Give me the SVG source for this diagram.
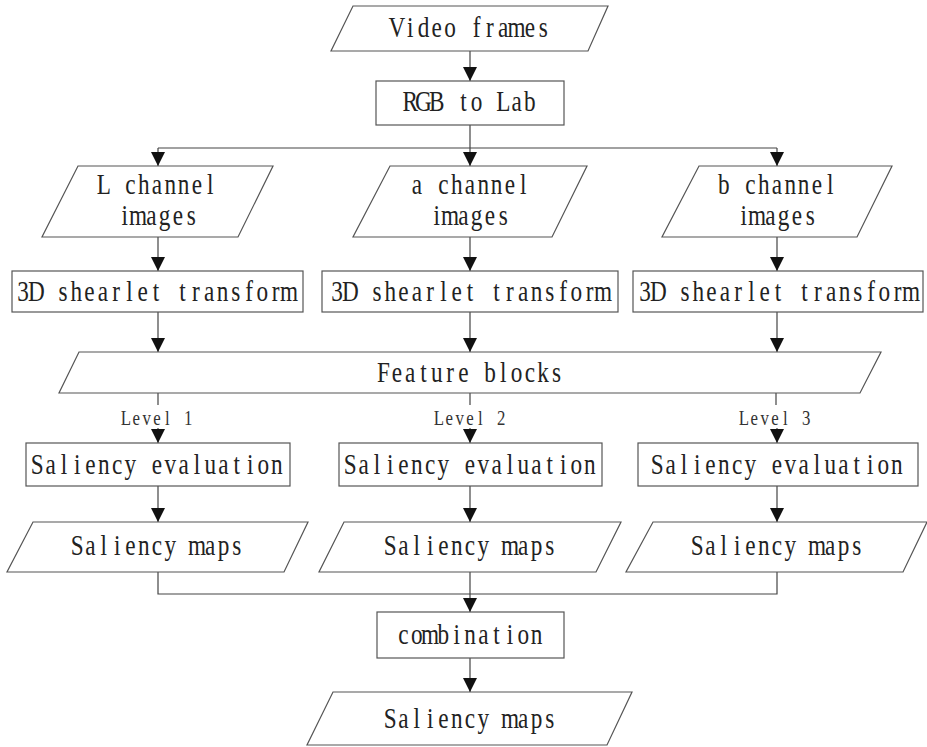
<svg xmlns="http://www.w3.org/2000/svg" width="927" height="747" viewBox="0 0 927 747">
<style>
.shape{fill:#fff;stroke:#555;stroke-width:1.2}
.t{font-family:"Liberation Serif",serif;font-size:29px;fill:#222;text-anchor:middle}
.lv{font-family:"Liberation Serif",serif;font-size:21px;fill:#333;text-anchor:middle}
.c{fill:none;stroke:#444;stroke-width:1.2}
</style>
<defs>
<marker id="ah" markerUnits="userSpaceOnUse" markerWidth="14" markerHeight="14" refX="14" refY="7" orient="auto" viewBox="0 0 14 14">
<path d="M0,0 L14,7 L0,14 z" fill="#111"/>
</marker>
</defs>
<rect width="927" height="747" fill="#fff"/>
<g id="connectors">
<path class="c" d="M470,51 V81" marker-end="url(#ah)"/>
<path class="c" d="M470,125 V166" marker-end="url(#ah)"/>
<path class="c" d="M158,148 H777"/>
<path class="c" d="M158,148 V166" marker-end="url(#ah)"/>
<path class="c" d="M777,148 V166" marker-end="url(#ah)"/>
<path class="c" d="M158,237 V271" marker-end="url(#ah)"/>
<path class="c" d="M470,237 V271" marker-end="url(#ah)"/>
<path class="c" d="M777,237 V271" marker-end="url(#ah)"/>
<path class="c" d="M158,312 V352" marker-end="url(#ah)"/>
<path class="c" d="M470,312 V352" marker-end="url(#ah)"/>
<path class="c" d="M777,312 V352" marker-end="url(#ah)"/>
<path class="c" d="M158,393 V405"/>
<path class="c" d="M470,393 V405"/>
<path class="c" d="M776,393 V405"/>
<path class="c" d="M158,428 V443" marker-end="url(#ah)"/>
<path class="c" d="M470,428 V443" marker-end="url(#ah)"/>
<path class="c" d="M777,428 V443" marker-end="url(#ah)"/>
<path class="c" d="M158,486 V522" marker-end="url(#ah)"/>
<path class="c" d="M470,486 V522" marker-end="url(#ah)"/>
<path class="c" d="M777,486 V522" marker-end="url(#ah)"/>
<path class="c" d="M158,572 V594 H777 V572"/>
<path class="c" d="M470,572 V612" marker-end="url(#ah)"/>
<path class="c" d="M470,658 V692" marker-end="url(#ah)"/>
<text class="lv" transform="translate(157,425) scale(0.8,1)" x="-39 -26 -13 0 13 26 39">Level 1</text>
<text class="lv" transform="translate(470,425) scale(0.8,1)" x="-39 -26 -13 0 13 26 39">Level 2</text>
<text class="lv" transform="translate(775,425) scale(0.8,1)" x="-39 -26 -13 0 13 26 39">Level 3</text>
</g>
<g id="video-frames">
<polygon class="shape" points="353,6 608,6 588,51 331,51"/>
<text class="t" transform="translate(470,37) scale(0.8,1)" x="-91.44 -74.81 -58.19 -41.56 -24.94 -8.31 8.31 24.94 41.56 58.19 74.81 91.44">Video frames</text>
</g>
<g id="rgb-to-lab">
<rect class="shape" x="376" y="81" width="188" height="44"/>
<text class="t" transform="translate(470,111) scale(0.8,1)" x="-74.81 -58.19 -41.56 -24.94 -8.31 8.31 24.94 41.56 58.19 74.81">RGB to Lab</text>
</g>
<g id="l-channel">
<polygon class="shape" points="78,166 273,166 238,237 42,237"/>
<text class="t" transform="translate(157,194) scale(0.8,1)" x="-66.5 -49.88 -33.25 -16.63 0 16.63 33.25 49.88 66.5">L channel</text>
<text class="t" transform="translate(158,225) scale(0.8,1)" x="-41.56 -24.94 -8.31 8.31 24.94 41.56">images</text>
</g>
<g id="a-channel">
<polygon class="shape" points="390,166 587,166 552,237 353,237"/>
<text class="t" transform="translate(470,194) scale(0.8,1)" x="-66.5 -49.88 -33.25 -16.63 0 16.63 33.25 49.88 66.5">a channel</text>
<text class="t" transform="translate(470,225) scale(0.8,1)" x="-41.56 -24.94 -8.31 8.31 24.94 41.56">images</text>
</g>
<g id="b-channel">
<polygon class="shape" points="699,166 892,166 857,237 662,237"/>
<text class="t" transform="translate(777,194) scale(0.8,1)" x="-66.5 -49.88 -33.25 -16.63 0 16.63 33.25 49.88 66.5">b channel</text>
<text class="t" transform="translate(777,225) scale(0.8,1)" x="-41.56 -24.94 -8.31 8.31 24.94 41.56">images</text>
</g>
<g id="shearlet-l">
<rect class="shape" x="12" y="271" width="291" height="41"/>
<text class="t" transform="translate(156,301) scale(0.8,1)" x="-166.25 -149.63 -133 -116.38 -99.75 -83.13 -66.5 -49.88 -33.25 -16.63 0 16.63 33.25 49.88 66.5 83.13 99.75 116.38 133 149.63 166.25">3D shearlet transform</text>
</g>
<g id="shearlet-a">
<rect class="shape" x="322" y="271" width="296" height="41"/>
<text class="t" transform="translate(470,301) scale(0.8,1)" x="-166.25 -149.63 -133 -116.38 -99.75 -83.13 -66.5 -49.88 -33.25 -16.63 0 16.63 33.25 49.88 66.5 83.13 99.75 116.38 133 149.63 166.25">3D shearlet transform</text>
</g>
<g id="shearlet-b">
<rect class="shape" x="633" y="271" width="290" height="41"/>
<text class="t" transform="translate(778,301) scale(0.8,1)" x="-166.25 -149.63 -133 -116.38 -99.75 -83.13 -66.5 -49.88 -33.25 -16.63 0 16.63 33.25 49.88 66.5 83.13 99.75 116.38 133 149.63 166.25">3D shearlet transform</text>
</g>
<g id="feature-blocks">
<polygon class="shape" points="79,352 881,352 860,393 59,393"/>
<text class="t" transform="translate(470,382) scale(0.8,1)" x="-108.06 -91.44 -74.81 -58.19 -41.56 -24.94 -8.31 8.31 24.94 41.56 58.19 74.81 91.44 108.06">Feature blocks</text>
</g>
<g id="saliency-eval-1">
<rect class="shape" x="26" y="443" width="264" height="43"/>
<text class="t" transform="translate(157,474) scale(0.8,1)" x="-149.63 -133 -116.38 -99.75 -83.13 -66.5 -49.88 -33.25 -16.63 0 16.63 33.25 49.88 66.5 83.13 99.75 116.38 133 149.63">Saliency evaluation</text>
</g>
<g id="saliency-eval-2">
<rect class="shape" x="339" y="443" width="263" height="43"/>
<text class="t" transform="translate(470,474) scale(0.8,1)" x="-149.63 -133 -116.38 -99.75 -83.13 -66.5 -49.88 -33.25 -16.63 0 16.63 33.25 49.88 66.5 83.13 99.75 116.38 133 149.63">Saliency evaluation</text>
</g>
<g id="saliency-eval-3">
<rect class="shape" x="638" y="443" width="280" height="43"/>
<text class="t" transform="translate(777,474) scale(0.8,1)" x="-149.63 -133 -116.38 -99.75 -83.13 -66.5 -49.88 -33.25 -16.63 0 16.63 33.25 49.88 66.5 83.13 99.75 116.38 133 149.63">Saliency evaluation</text>
</g>
<g id="saliency-maps-1">
<polygon class="shape" points="33,522 308,522 284,572 7,572"/>
<text class="t" transform="translate(157,555) scale(0.8,1)" x="-99.75 -83.13 -66.5 -49.88 -33.25 -16.63 0 16.63 33.25 49.88 66.5 83.13 99.75">Saliency maps</text>
</g>
<g id="saliency-maps-2">
<polygon class="shape" points="344,522 621,522 596,572 319,572"/>
<text class="t" transform="translate(470,555) scale(0.8,1)" x="-99.75 -83.13 -66.5 -49.88 -33.25 -16.63 0 16.63 33.25 49.88 66.5 83.13 99.75">Saliency maps</text>
</g>
<g id="saliency-maps-3">
<polygon class="shape" points="653,522 927,522 903,572 626,572"/>
<text class="t" transform="translate(777,555) scale(0.8,1)" x="-99.75 -83.13 -66.5 -49.88 -33.25 -16.63 0 16.63 33.25 49.88 66.5 83.13 99.75">Saliency maps</text>
</g>
<g id="combination">
<rect class="shape" x="377" y="612" width="187" height="46"/>
<text class="t" transform="translate(470,644) scale(0.8,1)" x="-83.13 -66.5 -49.88 -33.25 -16.63 0 16.63 33.25 49.88 66.5 83.13">combination</text>
</g>
<g id="saliency-maps-final">
<polygon class="shape" points="333,692 632,692 607,745 307,745"/>
<text class="t" transform="translate(470,728) scale(0.8,1)" x="-99.75 -83.13 -66.5 -49.88 -33.25 -16.63 0 16.63 33.25 49.88 66.5 83.13 99.75">Saliency maps</text>
</g>
</svg>
